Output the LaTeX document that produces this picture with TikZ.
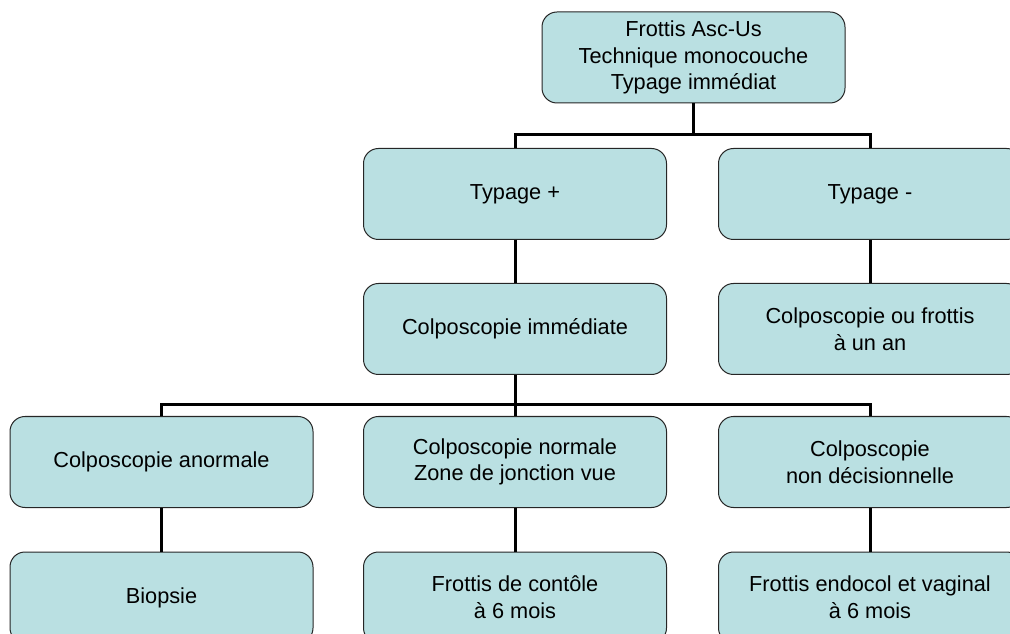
\documentclass[tikz,border=0pt]{standalone}
\usepackage{fontspec}
\setmainfont{Liberation Sans}
\newlength{\du}
\setlength{\du}{0.75pt}
\definecolor{boxcolor}{rgb}{0.729000, 0.878000, 0.886000}
\tikzset{
  box/.style={draw=black!85, line width=1\du, fill=boxcolor, rounded corners=15\du,
    minimum width=303\du, minimum height=91\du, inner sep=0pt, align=center,
    font=\fontsize{16.3}{20}\selectfont},
  link/.style={draw=black, line width=3\du}
}
\begin{document}
\begin{tikzpicture}[yscale=-1]
\useasboundingbox (0\du,0\du) rectangle (1010\du,634\du);
\clip (0\du,0\du) rectangle (1010\du,634\du);
% boxes
\node[box] (frottis) at (693.5\du,57.5\du) {Frottis Asc-Us\\Technique monocouche\\Typage immédiat};
\node[box] (typplus) at (515\du,194\du) {Typage +};
\node[box] (typmoins) at (870\du,194\du) {Typage -};
\node[box] (colpoimm) at (515\du,329\du) {Colposcopie immédiate};
\node[box] (colpoan) at (870\du,329\du) {Colposcopie ou frottis\\à un an};
\node[box] (anormale) at (161.5\du,462\du) {Colposcopie anormale};
\node[box] (normale) at (515\du,462\du) {Colposcopie normale\\Zone de jonction vue};
\node[box] (nondec) at (870\du,462\du) {Colposcopie\\non décisionnelle};
\node[box] (biopsie) at (161.5\du,597.5\du) {Biopsie};
\node[box] (controle) at (515\du,597.5\du) {Frottis de contôle\\à 6 mois};
\node[box] (endocol) at (870\du,597.5\du) {Frottis endocol et vaginal\\à 6 mois};
% links
\coordinate (busA) at (693.5\du,135\du);
\coordinate (busB) at (515\du,405\du);
\draw[link] (frottis.south) -- (busA);
\draw[link] (typplus.north) |- (busA) -| (typmoins.north);
\draw[link] (typplus.south) -- (colpoimm.north);
\draw[link] (typmoins.south) -- (colpoan.north);
\draw[link] (colpoimm.south) -- (busB);
\draw[link] (anormale.north) |- (busB) -| (nondec.north);
\draw[link] (busB) -- (normale.north);
\draw[link] (anormale.south) -- (biopsie.north);
\draw[link] (normale.south) -- (controle.north);
\draw[link] (nondec.south) -- (endocol.north);
\end{tikzpicture}
\end{document}
